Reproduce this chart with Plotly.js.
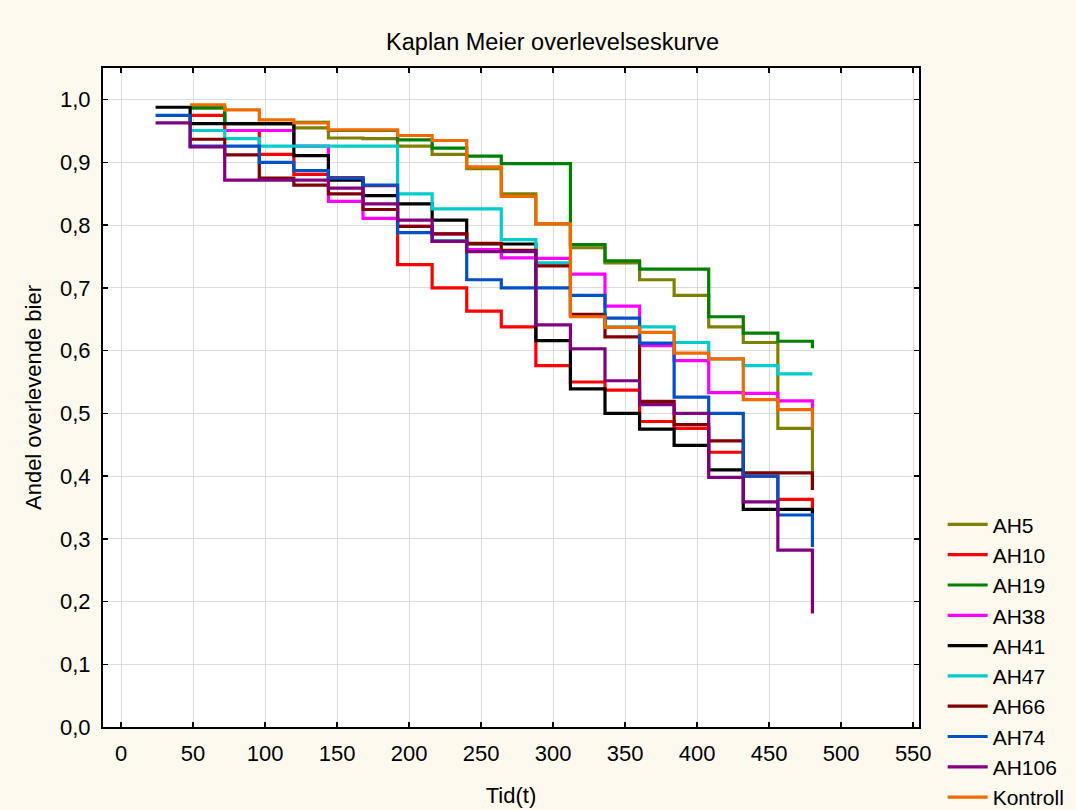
<!DOCTYPE html>
<html>
<head>
<meta charset="utf-8">
<script src="https://cdn.plot.ly/plotly-3.0.1.min.js"></script>
<style>html,body{margin:0;padding:0;background:#fdf9ef;}#chart{width:1076px;height:810px;}</style>
</head>
<body>
<div id="chart"></div>
<script>
// Step times (hours); last entry is the final drop at t = 480
const times = [24, 48, 72, 96, 120, 144, 168, 192, 216, 240, 264, 288, 312, 336, 360, 384, 408, 432, 456, 480];

const seriesNames = ["AH5", "AH10", "AH19", "AH38", "AH41", "AH47", "AH66", "AH74", "AH106", "Kontroll"];

const AH5      = [null, 0.987, 0.962, 0.962, 0.955, 0.939, 0.938, 0.926, 0.913, 0.890, 0.850, 0.802, 0.764, 0.740, 0.713, 0.688, 0.638, 0.613, 0.476, 0.378];
const AH10     = [null, 0.975, 0.951, 0.913, 0.881, 0.876, 0.863, 0.737, 0.700, 0.663, 0.638, 0.576, 0.550, 0.537, 0.487, 0.476, 0.438, 0.400, 0.363, 0.341];
const AH19     = [null, 0.987, 0.962, 0.962, 0.964, 0.951, 0.951, 0.936, 0.923, 0.910, 0.898, 0.898, 0.769, 0.743, 0.730, 0.730, 0.654, 0.628, 0.615, 0.604];
const AH38     = [null, 0.951, 0.951, 0.951, 0.926, 0.838, 0.811, 0.798, 0.786, 0.761, 0.748, 0.747, 0.722, 0.671, 0.608, 0.584, 0.533, 0.532, 0.520, 0.508];
const AH41     = [0.988, 0.962, 0.962, 0.962, 0.911, 0.872, 0.847, 0.834, 0.808, 0.770, 0.770, 0.616, 0.539, 0.500, 0.475, 0.449, 0.410, 0.347, 0.347, 0.340];
const AH47     = [null, 0.951, 0.938, 0.926, 0.926, 0.926, 0.926, 0.850, 0.826, 0.826, 0.777, 0.740, 0.655, 0.638, 0.638, 0.613, 0.587, 0.576, 0.563, 0.563];
const AH66     = [null, 0.937, 0.912, 0.875, 0.864, 0.850, 0.825, 0.798, 0.786, 0.771, 0.760, 0.735, 0.658, 0.622, 0.519, 0.482, 0.456, 0.405, 0.405, 0.378];
const AH74     = [0.975, 0.926, 0.926, 0.900, 0.887, 0.875, 0.864, 0.788, 0.775, 0.713, 0.700, 0.700, 0.688, 0.652, 0.612, 0.526, 0.500, 0.400, 0.338, 0.287];
const AH106    = [0.963, 0.925, 0.872, 0.872, 0.872, 0.859, 0.834, 0.808, 0.774, 0.758, 0.758, 0.641, 0.603, 0.552, 0.514, 0.500, 0.398, 0.359, 0.282, 0.181];
const Kontroll = [null, 0.992, 0.984, 0.968, 0.963, 0.952, 0.952, 0.943, 0.935, 0.893, 0.846, 0.802, 0.654, 0.637, 0.629, 0.596, 0.587, 0.522, 0.506, 0.476];

const seriesValues = [AH5, AH10, AH19, AH38, AH41, AH47, AH66, AH74, AH106, Kontroll];
const colors = ["#808000", "#ff0000", "#008000", "#ff00ff", "#000000", "#00cccc", "#800000", "#0050c8", "#800080", "#f06a00"];

const xTicks = [0, 50, 100, 150, 200, 250, 300, 350, 400, 450, 500, 550];
const yTicks = [0, 0.1, 0.2, 0.3, 0.4, 0.5, 0.6, 0.7, 0.8, 0.9, 1.0];

const traces = seriesNames.map((name, i) => ({
  type: 'scatter',
  mode: 'lines',
  name: name,
  x: times,
  y: seriesValues[i],
  line: {shape: 'hv', color: colors[i], width: 3.2},
  connectgaps: false,
  legendgroup: name
}));

const font = "Liberation Sans, Arial, sans-serif";
const fs = 22;

const layout = {
  width: 1076,
  height: 810,
  paper_bgcolor: '#fdf9ef',
  plot_bgcolor: '#ffffff',
  separators: ',.',
  margin: {l: 103, r: 157, t: 68, b: 83, autoexpand: false},
  title: {
    text: 'Kaplan Meier overlevelseskurve',
    font: {family: font, size: 23.5, color: '#000'},
    x: 0.551, xref: 'paper', xanchor: 'center',
    y: 0.948, yref: 'container', yanchor: 'middle'
  },
  xaxis: {
    range: [-12.5, 554],
    tickvals: xTicks,
    ticktext: xTicks.map(String),
    automargin: false,
    ticks: 'inside', ticklen: 5, tickwidth: 1.5, tickcolor: '#000',
    showline: true, linecolor: '#000', linewidth: 2, mirror: 'ticks',
    showgrid: true, gridcolor: '#dcdcdc', gridwidth: 1,
    zeroline: false,
    tickfont: {family: font, size: fs, color: '#000'},
    ticklabelstandoff: 6,
    title: {text: 'Tid(t)', font: {family: font, size: fs, color: '#000'}, standoff: 22}
  },
  yaxis: {
    range: [0, 1.0506],
    tickvals: yTicks,
    tickformat: '.1f',
    automargin: false,
    ticks: 'inside', ticklen: 5, tickwidth: 1.5, tickcolor: '#000',
    showline: true, linecolor: '#000', linewidth: 2, mirror: 'ticks',
    showgrid: true, gridcolor: '#dcdcdc', gridwidth: 1,
    zeroline: false,
    tickfont: {family: font, size: fs, color: '#000'},
    ticklabelstandoff: 6,
    title: {text: 'Andel overlevende bier', font: {family: font, size: fs, color: '#000'}, standoff: 12}
  },
  legend: {
    x: 1.029, xanchor: 'left',
    y: 0.338, yanchor: 'top',
    bgcolor: 'rgba(0,0,0,0)',
    font: {family: font, size: 21, color: '#000'},
    itemwidth: 40,
    tracegroupgap: 0
  },
  showlegend: true
};

Plotly.newPlot('chart', traces, layout, {displayModeBar: false, staticPlot: true});
</script>
</body>
</html>
